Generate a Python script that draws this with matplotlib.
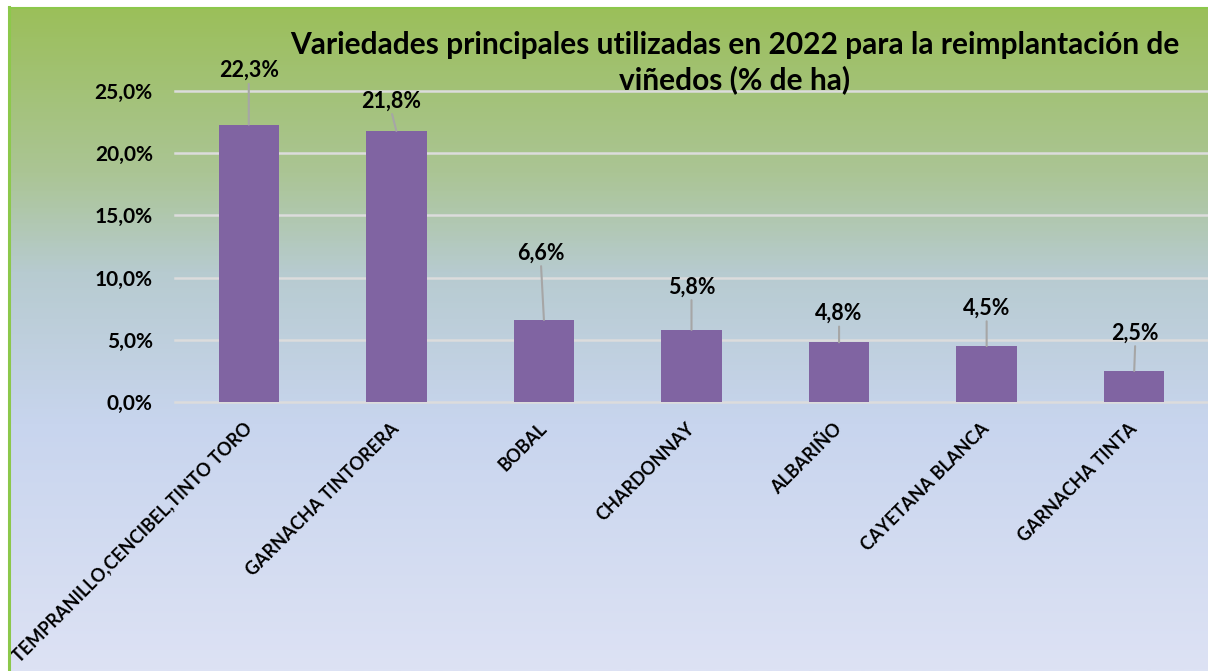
import numpy as np
import matplotlib
matplotlib.use("Agg")
import matplotlib.pyplot as plt
from matplotlib.colors import LinearSegmentedColormap

# ---- data ----
categories = ["TEMPRANILLO,CENCIBEL,TINTO TORO", "GARNACHA TINTORERA", "BOBAL",
              "CHARDONNAY", "ALBARIÑO", "CAYETANA BLANCA", "GARNACHA TINTA"]
values = [0.223, 0.218, 0.066, 0.058, 0.048, 0.045, 0.025]
value_labels = ["22,3%", "21,8%", "6,6%", "5,8%", "4,8%", "4,5%", "2,5%"]
yticks = [0.0, 0.05, 0.10, 0.15, 0.20, 0.25]
ytick_labels = ["0,0%", "5,0%", "10,0%", "15,0%", "20,0%", "25,0%"]
title_lines = ["Variedades principales utilizadas en 2022 para la reimplantación de",
               "viñedos (% de ha)"]

# label offsets (pixels) for data labels (style)
label_offsets_px = [(0, 54), (-5, 30), (-3, 67), (0, 43), (0, 29), (0, 38), (1, 38)]

W, H, DPI = 1208, 671, 100
plt.rcParams['font.family'] = ['Lato', 'DejaVu Sans']
WEIGHT = "bold"
fig = plt.figure(figsize=(W / DPI, H / DPI), dpi=DPI)
fig.patch.set_facecolor("white")

# background gradient
bg = fig.add_axes([8 / W, 0, (W - 8) / W, (H - 7) / H], zorder=-10)
cmap = LinearSegmentedColormap.from_list(
    "bg", [(0.0, "#9BBF5A"), (0.25, "#ABC595"), (0.40, "#B7CBD0"),
           (0.63, "#C8D5EE"), (1.0, "#DDE2F4")])
grad = np.linspace(0, 1, 400).reshape(-1, 1)
bg.imshow(grad, aspect="auto", cmap=cmap, extent=[0, 1, 0, 1], origin="upper")
bg.set_axis_off()
# border lines
fig.add_artist(plt.Line2D([9 / W, 9 / W], [0, (H - 7) / H], color="#8CC84B", lw=2.2))
fig.add_artist(plt.Line2D([9 / W, 1], [(H - 7.5) / H, (H - 7.5) / H], color="#8CC84B", lw=1.5))

ax = fig.add_axes([175 / W, (H - 402) / H, (W - 175) / W, 311 / H])
ax.patch.set_alpha(0)
x = np.arange(len(categories))
ax.bar(x, values, width=0.41, color="#8064A2", zorder=3)
ax.set_xlim(-0.5, len(categories) - 0.5)
ax.set_ylim(0, 0.25)
ax.set_yticks(yticks)
ax.set_yticklabels(ytick_labels, fontsize=15, fontweight=WEIGHT)
for yv in yticks:
    ax.axhline(yv, color="#DCDCDC", lw=1.8, zorder=1, clip_on=False)
ax.set_xticks(x)
ax.set_xticklabels(categories, rotation=45, ha="right", va="center",
                   rotation_mode="anchor", fontsize=13, fontweight=WEIGHT)
ax.tick_params(axis="both", length=0)
ax.tick_params(axis="y", pad=16)
ax.tick_params(axis="x", pad=17)
for s in ax.spines.values():
    s.set_visible(False)

pt = 72 / DPI
for i, (v, lab, (dx, dy)) in enumerate(zip(values, value_labels, label_offsets_px)):
    ax.annotate(lab, xy=(i, v), xytext=(dx * pt, dy * pt), textcoords="offset points",
                ha="center", va="center", fontsize=15.5, fontweight=WEIGHT,
                annotation_clip=False,
                arrowprops=dict(arrowstyle="-", color="#A6A6A6", lw=1.5,
                                shrinkA=0, shrinkB=0, relpos=(0.5, 0.0)))

fig.text(735 / W, 1 - 45 / H, title_lines[0], ha="center", va="center", fontsize=21.5,
         fontweight=WEIGHT)
fig.text(735 / W, 1 - 80 / H, title_lines[1], ha="center", va="center", fontsize=21.5,
         fontweight=WEIGHT)

fig.savefig("out.png", dpi=DPI)
